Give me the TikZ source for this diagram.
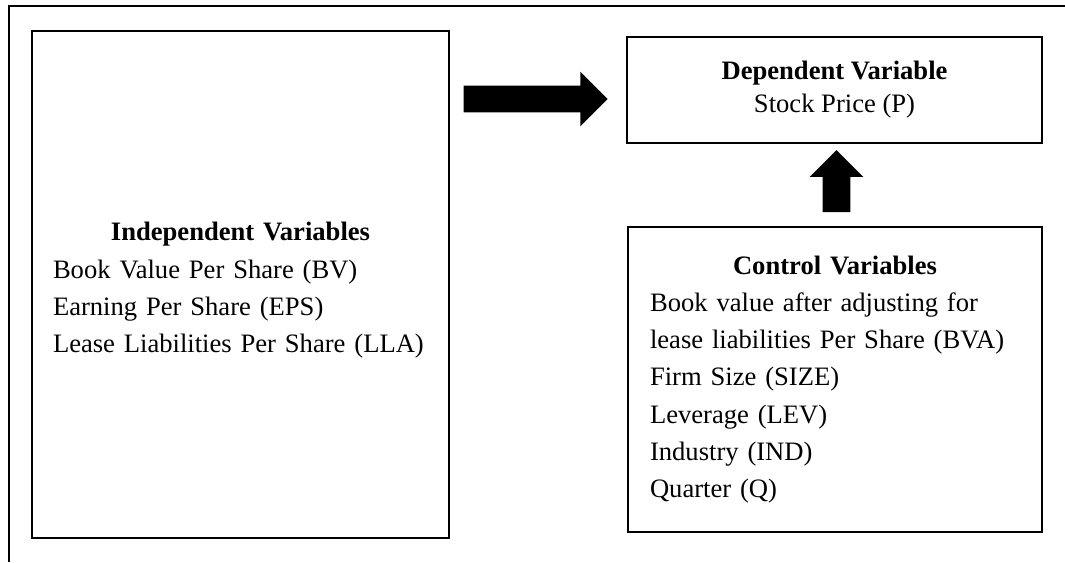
\documentclass[tikz,border=0pt]{standalone}
\usepackage{fontspec}
\setmainfont{Liberation Serif}
\usetikzlibrary{shapes.arrows}

\tikzset{
  varbox/.style={draw, line width=1pt, inner xsep=0pt, inner ysep=0pt, align=left},
  bigarrow/.style={single arrow, fill=black, draw=none, outer sep=0pt},
}

\begin{document}
\begin{tikzpicture}[x=0.5pt,y=-0.5pt]
   \tikzstyle{every node}=[font=\fontsize{13.3}{18.6}\selectfont]
   \useasboundingbox (0,0) rectangle (1065,562);

   % page frame
   \draw[line width=1pt] (9,562) -- (9,6) -- (1065,6);

   \node[varbox, minimum width=208.5pt, minimum height=253.5pt, text width=187.5pt] (indep) at (240.5,284.5)
      {{\centering\rule{0pt}{15pt}\textbf{Independent Variables}\par}
       Book Value Per Share (BV)\\
       Earning Per Share (EPS)\\
       Lease Liabilities Per Share (LLA)};

   \node[varbox, align=center, minimum width=207.5pt, minimum height=53pt,
         font=\fontsize{13.3}{16.5}\selectfont] (dep) at (834.5,90)
      {\textbf{Dependent Variable}\\ Stock Price (P)};

   \node[varbox, minimum width=207pt, minimum height=152.5pt, text width=185pt] (ctrl) at (835,379.5)
      {{\centering\textbf{Control Variables}\par}
       Book value after adjusting for\\
       lease liabilities Per Share (BVA)\\
       Firm Size (SIZE)\\
       Leverage (LEV)\\
       Industry (IND)\\
       Quarter (Q)};

   % block arrows
   \node[bigarrow, inner sep=6.5pt, minimum height=72pt, minimum width=27pt,
         single arrow head extend=7pt] (indepToDep) at (529,99) {};
   \node[bigarrow, inner sep=6.75pt, shape border rotate=90, minimum height=31pt, minimum width=26.5pt,
         single arrow head extend=6.5pt] (ctrlToDep) at (836.5,188) {};
\end{tikzpicture}
\end{document}
